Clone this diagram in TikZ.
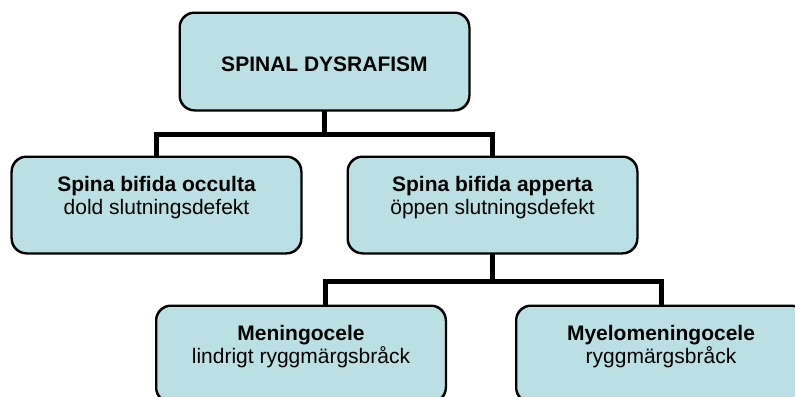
\documentclass[tikz,border=0pt]{standalone}
\usepackage{fontspec}
\setmainfont{Liberation Sans}
\definecolor{boxfill}{HTML}{BBE0E3}
\tikzset{
  orgbox/.style={draw=black, line width=1.5bp, fill=boxfill, rounded corners=15bp,
    minimum width=289bp, minimum height=96bp, inner sep=0pt},
  headtxt/.style={anchor=base, inner sep=0pt, font=\fontsize{21bp}{23bp}\selectfont\bfseries},
  subtxt/.style={anchor=base, inner sep=0pt, font=\fontsize{21bp}{23bp}\selectfont},
  conn/.style={draw=black, line width=5bp, line join=miter}
}
\begin{document}
\begin{tikzpicture}[x=1bp,y=-1bp]
\useasboundingbox (0,0) rectangle (795,396);
\clip (0,0) rectangle (795,396);
% boxes
\node[orgbox, minimum height=97bp] (top) at (324.5,61.5) {};
\node[orgbox] (occ) at (156.5,205) {};
\node[orgbox] (ape) at (492.5,205) {};
\node[orgbox] (men) at (301,354) {};
\node[orgbox] (mye) at (661,354) {};
% connectors
\draw[conn] (top.south) -- ++(0,24) -| (occ.north);
\draw[conn] (top.south) -- ++(0,24) -| (ape.north);
\draw[conn] (ape.south) -- ++(0,28) -| ([xshift=24bp]men.north);
\draw[conn] (ape.south) -- ++(0,28) -| (mye.north);
% redraw box borders over connector ends
\foreach \b in {top,occ,ape,men,mye}{
  \draw[line width=1.5bp, rounded corners=15bp] (\b.south west) rectangle (\b.north east);
}
% texts
\node[headtxt] (topT) at ([yshift=-59bp]top.north) {SPINAL DYSRAFISM};
\node[headtxt] (occT) at ([yshift=-35bp]occ.north) {Spina bifida occulta};
\node[subtxt] (occS) at ([yshift=-58bp]occ.north) {dold slutningsdefekt};
\node[headtxt] (apeT) at ([yshift=-35bp]ape.north) {Spina bifida apperta};
\node[subtxt] (apeS) at ([yshift=-58bp]ape.north) {öppen slutningsdefekt};
\node[headtxt] (menT) at ([yshift=-35bp]men.north) {Meningocele};
\node[subtxt] (menS) at ([yshift=-58bp]men.north) {lindrigt ryggmärgsbråck};
\node[headtxt] (myeT) at ([yshift=-35bp]mye.north) {Myelomeningocele};
\node[subtxt] (myeS) at ([yshift=-58bp]mye.north) {ryggmärgsbråck};
\end{tikzpicture}
\end{document}
